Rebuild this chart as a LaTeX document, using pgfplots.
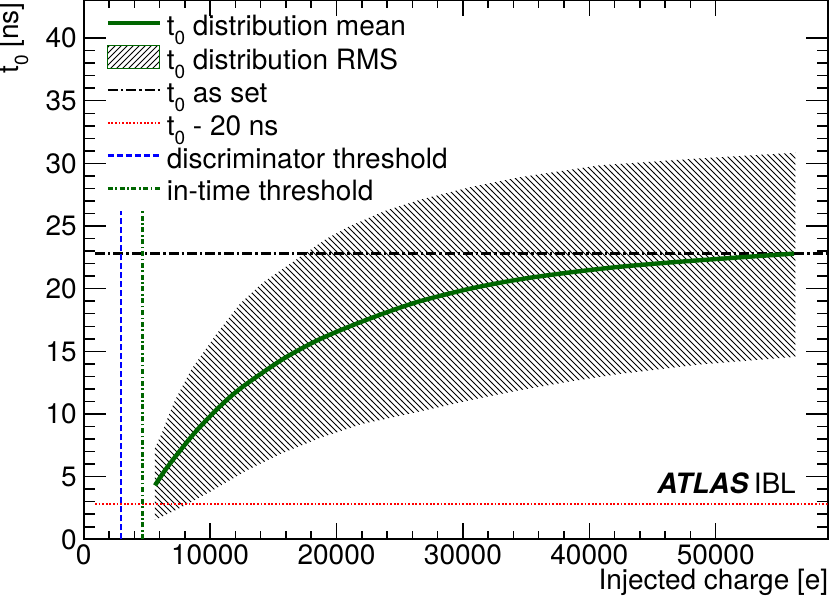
\documentclass[border=0pt]{standalone}
\usepackage{fontspec}
\setmainfont{TeX Gyre Heros}
\usepackage{pgfplots}
\pgfplotsset{compat=1.18}
\usetikzlibrary{patterns}
\definecolor{rootgreen}{RGB}{0,102,0}
\newcommand{\tsub}{t\raisebox{-4.6pt}{\fontsize{9.5}{10}\selectfont 0}}
\tikzset{
  dashdotblack/.style={dash pattern=on 5pt off 1.5pt on 1.2pt off 1.5pt},
  dashblue/.style={dash pattern=on 3.3pt off 1.2pt},
  dashdotgreen/.style={dash pattern=on 2.5pt off 1.3pt on 0.8pt off 1.3pt},
  dotred/.style={dash pattern=on 0.9pt off 0.9pt},
}
\begin{document}
\begin{tikzpicture}
\begin{axis}[
  scale only axis, width=372pt, height=269.4pt,
  xmin=0, xmax=58860, ymin=0, ymax=43,
  axis line style={line width=1pt},
  tick align=inside,
  xtick={0,10000,...,50000}, minor x tick num=4,
  ytick={0,5,...,40}, minor y tick num=4,
  scaled x ticks=false,
  tick style={line width=0.75pt, black},
  xtick style={/pgfplots/major tick length=8pt, /pgfplots/minor tick length=4pt},
  ytick style={/pgfplots/major tick length=11pt, /pgfplots/minor tick length=5.5pt},
  /pgf/number format/assume math mode=true,
  /pgf/number format/1000 sep={},
  ticklabel style={font=\fontsize{14}{16}\selectfont},
  xticklabel style={anchor=base, yshift=-12.85pt},
  yticklabel style={anchor=east, inner sep=0pt, xshift=-3.3pt},
  legend style={at={(rel axis cs:0,1)}, anchor=north west, xshift=10.75pt, yshift=-5.8pt,
    draw=none, fill=none, inner sep=0pt, row sep=0pt,
    font=\fontsize{14}{16}\selectfont,
    nodes={inner xsep=2.4pt, inner ysep=1.45pt, text height=10pt, text depth=3.5pt}},
  legend cell align=left,
  legend image code/.code={\draw[#1] (0pt,3pt) -- (26pt,3pt);},
]
% RMS band
\addplot[forget plot, draw=none, pattern=north west lines, pattern color=black] coordinates {
(5640,1.54) (5640,7.3) (6170,8.45) (6570,9.5) (7220,11.1) (8540,13.6) (10520,16.4)
(12370,18.8) (14200,20.5) (16060,21.8) (19220,24.0) (21070,25.0) (23800,26.2)
(26600,27.1) (30560,28.1) (34510,28.9) (40840,29.85) (48750,30.4) (56300,30.85)
(56300,14.56) (48750,13.95) (42420,13.2) (38500,12.6) (34510,11.9) (30560,11.1)
(26600,10.2) (22000,9.2) (18720,8.1) (15530,6.8) (12900,5.5) (10250,3.93)
(7620,2.5) (5640,1.54)
} -- cycle;
% t0 as set
\addplot[forget plot, black, line width=1.2pt, dashdotblack] coordinates {(900,22.8) (58860,22.8)};
% t0 - 20 ns
\addplot[forget plot, red, line width=1.1pt, dotred] coordinates {(900,2.8) (58860,2.8)};
% discriminator threshold
\addplot[forget plot, blue, line width=1.3pt, dashblue] coordinates {(2950,0) (2950,26.2)};
% in-time threshold
\addplot[forget plot, rootgreen, line width=1.2pt, dashdotgreen] coordinates {(4640,0) (4640,26.2)};
% mean
\addplot[forget plot, rootgreen, line width=2.2pt, smooth] coordinates {
(5640,4.3) (6500,5.6) (7880,7.4) (9000,8.75) (10520,10.35) (11800,11.55) (13160,12.6)
(15790,14.4) (18430,15.85) (21070,17.0) (23800,18.05) (26600,19.0) (30560,20.0)
(34510,20.75) (38470,21.3) (42420,21.75) (46500,22.1) (50500,22.4) (56200,22.8)
};
% legend
\addlegendimage{rootgreen, line width=2.2pt}
\addlegendentry{\tsub\ distribution mean}
\addlegendimage{legend image code/.code={\draw[pattern=north east lines, pattern color=black, draw=rootgreen, line width=0.6pt] (0pt,-2.65pt) rectangle (26pt,8.65pt);}}
\addlegendentry{\tsub\ distribution RMS}
\addlegendimage{black, line width=1.2pt, dashdotblack}
\addlegendentry{\tsub\ as set}
\addlegendimage{red, line width=1.1pt, dotred}
\addlegendentry{\tsub\ - 20 ns}
\addlegendimage{blue, line width=1.3pt, dashblue}
\addlegendentry{discriminator threshold}
\addlegendimage{rootgreen, line width=1.2pt, dashdotgreen}
\addlegendentry{in-time threshold}

\node[anchor=base west, font=\fontsize{14}{16}\selectfont, inner sep=0pt] at (axis cs:45360,3.69) {\textbf{\textit{ATLAS}}\hspace{2.5pt}IBL};
\coordinate (bl) at (rel axis cs:0,0);
\coordinate (tr) at (rel axis cs:1,1);
\end{axis}
\node[rotate=90, anchor=base east, font=\fontsize{14}{16}\selectfont, inner sep=0pt] at ([xshift=-32.4pt, yshift=-0.8pt]bl |- tr) {\tsub\ [ns]};
\node[anchor=base east, font=\fontsize{14}{16}\selectfont, inner sep=0pt] at ([yshift=-25.35pt, xshift=0.5pt]tr |- bl) {Injected charge [e]};
\pgfresetboundingbox
\path[use as bounding box] ([xshift=-41.85pt,yshift=-29.85pt]bl) rectangle ([xshift=1.15pt,yshift=0.25pt]tr);
\end{tikzpicture}
\end{document}
